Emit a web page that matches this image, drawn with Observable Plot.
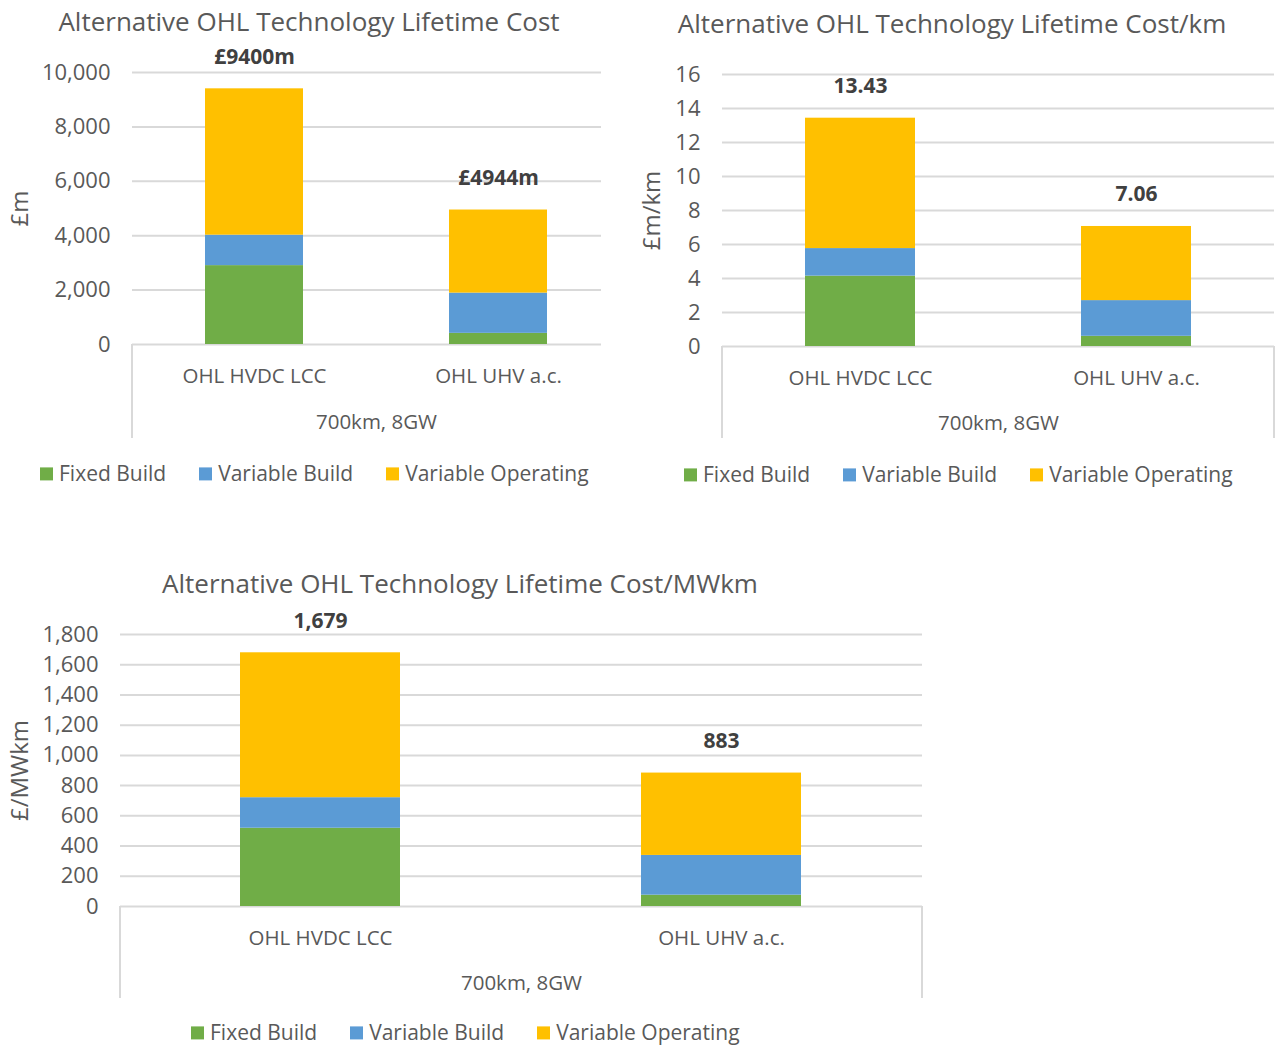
<!DOCTYPE html>
<html>
<head>
<meta charset="utf-8">
<script src="https://cdn.jsdelivr.net/npm/d3@7"></script>
<script src="https://cdn.jsdelivr.net/npm/@observablehq/plot@0.6"></script>
<style>
  html, body { margin: 0; padding: 0; background: #fff; }
  #root { position: relative; width: 1279px; height: 1047px; overflow: hidden; font-family: "Open Sans", sans-serif; color: #595959; }
  .title { position: absolute; font-size: 26px; line-height: 1.2; white-space: nowrap; transform: translate(-50%, -50%); color: #595959; }
  .panel { position: absolute; overflow: hidden; }
  .panel svg { max-width: none !important; }
  .legend { position: absolute; display: flex; align-items: center; font-size: 21px; line-height: 1.2; color: #595959; white-space: nowrap; transform: translateY(-50%); }
  .legend .item { display: flex; align-items: center; margin-right: 33px; }
  .legend .sw { width: 13px; height: 13px; margin-right: 6px; }
</style>
</head>
<body>
<div id="root"></div>
<script>
// ---- data ----
const categories = ["OHL HVDC LCC", "OHL UHV a.c."];
const seriesNames = ["Fixed Build", "Variable Build", "Variable Operating"];
const seriesColors = ["#70AD47", "#5B9BD5", "#FFC000"];
const groupLabel = "700km, 8GW";

// Chart 1: Lifetime Cost (£m)
const cost_fixed = [2900, 410];
const cost_varBuild = [1120, 1480];
const cost_varOp = [5380, 3054];
const cost_totals = [9400, 4944];
const cost_ticks = [0, 2000, 4000, 6000, 8000, 10000];

// Chart 2: Lifetime Cost/km (£m/km)
const km_fixed = [4.14, 0.60];
const km_varBuild = [1.62, 2.10];
const km_varOp = [7.67, 4.36];
const km_totals = [13.43, 7.06];
const km_ticks = [0, 2, 4, 6, 8, 10, 12, 14, 16];

// Chart 3: Lifetime Cost/MWkm (£/MWkm)
const mw_fixed = [518, 75];
const mw_varBuild = [202, 263];
const mw_varOp = [959, 545];
const mw_totals = [1679, 883];
const mw_ticks = [0, 200, 400, 600, 800, 1000, 1200, 1400, 1600, 1800];

const root = document.getElementById("root");

function rowsFrom(fixed, varBuild, varOp) {
  const rows = [];
  [fixed, varBuild, varOp].forEach((arr, si) => {
    arr.forEach((v, ci) => rows.push({cat: categories[ci], series: seriesNames[si], value: v}));
  });
  return rows;
}

function separators(index, scales, values, dims) {
  const g = document.createElementNS("http://www.w3.org/2000/svg", "g");
  const xs = [dims.marginLeft, dims.width - dims.marginRight];
  const y1 = dims.height - dims.marginBottom;
  const y2 = dims.height - 2;
  for (const x of xs) {
    const l = document.createElementNS("http://www.w3.org/2000/svg", "line");
    l.setAttribute("x1", x); l.setAttribute("x2", x);
    l.setAttribute("y1", y1); l.setAttribute("y2", y2);
    l.setAttribute("stroke", "#d9d9d9"); l.setAttribute("stroke-width", 2);
    g.appendChild(l);
  }
  return g;
}

function makeChart(cfg) {
  const rows = rowsFrom(cfg.fixed, cfg.varBuild, cfg.varOp);
  const totals = categories.map((c, i) => ({cat: c, total: cfg.totals[i]}));
  const chart = Plot.plot({
    width: cfg.width,
    height: cfg.height,
    marginLeft: cfg.marginLeft,
    marginRight: cfg.marginRight,
    marginTop: cfg.marginTop,
    marginBottom: cfg.marginBottom,
    style: {fontFamily: "Open Sans, sans-serif", fontSize: "20px", color: "#595959", background: "transparent", maxWidth: "none"},
    x: {domain: categories, paddingInner: 0.6, paddingOuter: 0.3, label: null},
    y: {domain: [cfg.ticks[0], cfg.ticks[cfg.ticks.length - 1]], label: null},
    color: {domain: seriesNames, range: seriesColors},
    marks: [
      Plot.gridY(cfg.ticks, {stroke: "#d9d9d9", strokeOpacity: 1, strokeWidth: 2}),
      Plot.barY(rows, {x: "cat", y: "value", fill: "series"}),
      Plot.axisY(cfg.ticks, {tickSize: 0, tickPadding: 22, tickFormat: cfg.tickFormat, fontSize: 22, fill: "#595959"}),
      Plot.axisX({tickSize: 0, tickPadding: 24, fontSize: 20.5, fill: "#595959"}),
      Plot.text(totals, {x: "cat", y: "total", text: d => cfg.labelFormat(d.total), dy: -32, fontWeight: "bold", fontSize: 21, fill: "#404040"}),
      Plot.text([groupLabel], {frameAnchor: "bottom", lineAnchor: "middle", text: d => d, dy: cfg.groupDy, fontSize: 20.5, fill: "#595959"}),
      Plot.text([cfg.yTitle], {frameAnchor: "left", textAnchor: "middle", lineAnchor: "middle", text: d => d, rotate: -90, dx: -cfg.yTitleOffset, fontSize: 24, fill: "#595959"}),
      separators
    ]
  });
  const panel = document.createElement("div");
  panel.className = "panel";
  panel.style.left = cfg.left + "px";
  panel.style.top = cfg.top + "px";
  panel.style.width = (cfg.clipWidth || cfg.width) + "px";
  panel.style.height = cfg.height + "px";
  panel.appendChild(chart);
  root.appendChild(panel);

  const t = document.createElement("div");
  t.className = "title";
  t.textContent = cfg.title;
  t.style.left = cfg.titleX + "px";
  t.style.top = cfg.titleY + "px";
  root.appendChild(t);

  const lg = document.createElement("div");
  lg.className = "legend";
  lg.style.left = cfg.legendX + "px";
  lg.style.top = cfg.legendY + "px";
  seriesNames.forEach((s, i) => {
    const it = document.createElement("div");
    it.className = "item";
    const sw = document.createElement("div");
    sw.className = "sw";
    sw.style.background = seriesColors[i];
    const tx = document.createElement("span");
    tx.textContent = s;
    it.appendChild(sw); it.appendChild(tx);
    lg.appendChild(it);
  });
  root.appendChild(lg);
}

makeChart({
  title: "Alternative OHL Technology Lifetime Cost", titleX: 309, titleY: 22,
  fixed: cost_fixed, varBuild: cost_varBuild, varOp: cost_varOp, totals: cost_totals, ticks: cost_ticks,
  tickFormat: d3.format(","), labelFormat: v => "£" + v + "m", yTitle: "£m", yTitleOffset: 112,
  left: 0, top: 40, width: 620, clipWidth: 601, height: 400,
  marginLeft: 132, marginRight: 0, marginTop: 32, marginBottom: 96, groupDy: 78,
  legendX: 40, legendY: 474
});

makeChart({
  title: "Alternative OHL Technology Lifetime Cost/km", titleX: 952, titleY: 24,
  fixed: km_fixed, varBuild: km_varBuild, varOp: km_varOp, totals: km_totals, ticks: km_ticks,
  tickFormat: d3.format("d"), labelFormat: d3.format(".2f"), yTitle: "£m/km", yTitleOffset: 70,
  left: 620, top: 40, width: 659, height: 400,
  marginLeft: 102, marginRight: 5, marginTop: 34, marginBottom: 94, groupDy: 77,
  legendX: 684, legendY: 475
});

makeChart({
  title: "Alternative OHL Technology Lifetime Cost/MWkm", titleX: 460, titleY: 584,
  fixed: mw_fixed, varBuild: mw_varBuild, varOp: mw_varOp, totals: mw_totals, ticks: mw_ticks,
  tickFormat: d3.format(","), labelFormat: d3.format(","), yTitle: "£/MWkm", yTitleOffset: 100,
  left: 0, top: 600, width: 940, height: 400,
  marginLeft: 120, marginRight: 18, marginTop: 34, marginBottom: 94, groupDy: 77,
  legendX: 191, legendY: 1033
});
</script>
</body>
</html>
